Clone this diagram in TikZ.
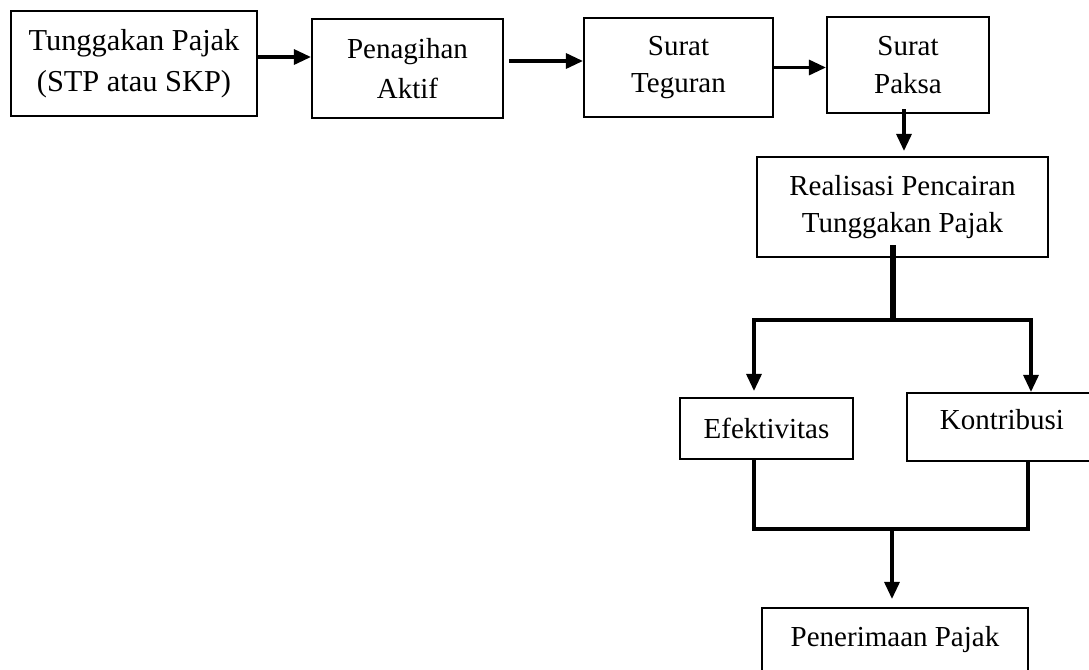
\documentclass[tikz,border=0pt]{standalone}
\usepackage{fontspec}
\setmainfont{Liberation Serif}
\usetikzlibrary{arrows.meta,positioning,calc}

\begin{document}
\begin{tikzpicture}[
  pbox/.style={rectangle, draw=black, line width=1.2pt, fill=white,
               font=\fontsize{16.5}{21.5}\selectfont, align=center, inner sep=0pt},
  parr/.style={-{Triangle[length=0.34cm, width=0.3cm]}, line width=1.8pt},
  pline/.style={line width=1.8pt},
  pthick/.style={line width=3.4pt}
]
\useasboundingbox (0,0) rectangle (21.78,-13.38);

% Top row
\node[pbox, minimum width=4.92cm, minimum height=2.10cm, font=\fontsize{17.3}{23}\selectfont] (tp) at ( 2.68,-1.27) {Tunggakan Pajak\\(STP atau SKP)};
\node[pbox, minimum width=3.82cm, minimum height=1.98cm, font=\fontsize{16.5}{23}\selectfont] (pa) at ( 8.15,-1.37) {Penagihan\\Aktif};
\node[pbox, minimum width=3.78cm, minimum height=1.98cm] (st) at (13.57,-1.35) {Surat\\Teguran};
\node[pbox, minimum width=3.24cm, minimum height=1.92cm] (sp) at (18.16,-1.30) {Surat\\Paksa};

% Realisasi and results
\node[pbox, minimum width=5.82cm, minimum height=2.00cm] (rp) at (18.05,-4.14) {Realisasi Pencairan\\Tunggakan Pajak};
\node[pbox, minimum width=3.46cm, minimum height=1.22cm] (ef) at (15.33,-8.57) {Efektivitas};
\node[pbox, minimum width=3.80cm, minimum height=1.36cm] (ko) at (20.04,-8.54) {\raisebox{0.3cm}{Kontribusi}};
\node[pbox, minimum width=5.32cm, minimum height=1.64cm] (pp) at (17.90,-12.98) {\raisebox{0.52cm}{Penerimaan Pajak}};

% Arrows along the top
\draw[parr] ([yshift=0.13cm]tp.east) -- ([yshift=0.13cm]tp.east -| pa.west);
\draw[parr] ([xshift=0.1cm,yshift=0.15cm]pa.east) -- ([yshift=0.15cm]pa.east -| st.west);
\draw[parr] (st.east) -- (st.east -| sp.west);
\coordinate (sps) at ([xshift=-0.08cm,yshift=0.1cm]sp.south);
\draw[parr] (sps) -- ([yshift=0.1cm]sps |- rp.north);

% Split to Efektivitas and Kontribusi
\draw[pthick] ([xshift=-0.19cm,yshift=0.26cm]rp.south) -- ++(0,-1.50) coordinate (fork);
\draw[parr] (fork) -| ([xshift=-0.25cm,yshift=0.12cm]ef.north);
\draw[parr] (fork) -| ([xshift=0.58cm]ko.north);

% Merge to Penerimaan Pajak
\coordinate (merge) at (17.84,-10.58);
\draw[pline] ([xshift=-0.25cm,yshift=0.04cm]ef.south) |- (merge) -| ([xshift=0.52cm,yshift=0.04cm]ko.south);
\draw[parr] (merge) -- ([yshift=0.16cm]merge |- pp.north);
\end{tikzpicture}
\end{document}
